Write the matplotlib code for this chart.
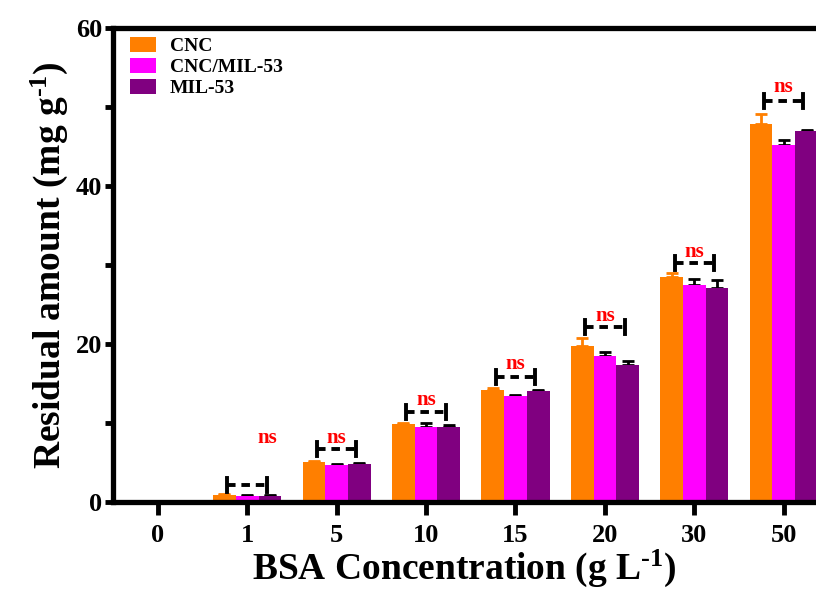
import numpy as np
import matplotlib
matplotlib.use("Agg")
import matplotlib.pyplot as plt

plt.rcParams['font.family'] = ['Liberation Serif', 'DejaVu Serif']
plt.rcParams['font.weight'] = 'bold'
plt.rcParams['mathtext.fontset'] = 'custom'
plt.rcParams['mathtext.rm'] = 'Liberation Serif:bold'
plt.rcParams['mathtext.default'] = 'rm'

# data
categories = ['0', '1', '5', '10', '15', '20', '30', '50']
cnc = [0, 0.9, 5.1, 9.9, 14.2, 19.7, 28.5, 47.8]
cnc_mil53 = [0, 0.8, 4.7, 9.5, 13.4, 18.5, 27.5, 45.2]
mil53 = [0, 0.8, 4.8, 9.5, 14.1, 17.3, 27.1, 47.0]
cnc_err = [0, 0.1, 0.1, 0.1, 0.2, 1.1, 0.5, 1.3]
cnc_mil53_err = [0, 0.1, 0.1, 0.5, 0.1, 0.5, 0.7, 0.6]
mil53_err = [0, 0.1, 0.1, 0.3, 0.1, 0.5, 1.0, 0.1]

# significance marks (group index, bracket height, label height, label x shift)
sig_groups = [1, 2, 3, 4, 5, 6, 7]
sig_line_y = [2.2, 6.7, 11.4, 15.8, 22.2, 30.3, 50.8]
sig_text_y = [8.1, 8.1, 12.9, 17.5, 23.5, 31.6, 52.5]
sig_text_dx = [0.22, 0, 0, 0, 0, 0, 0]

colors = ['#FF7F00', '#FF00FF', '#800080']
err_colors = ['#FF7F00', 'black', 'black']
labels = ['CNC', 'CNC/MIL-53', 'MIL-53']

fig = plt.figure(figsize=(8.16, 5.91), dpi=100)
ax = fig.add_axes([0.1385, 0.1506, 0.8615, 0.802])

x = np.arange(len(categories))
w = 0.254
series = [cnc, cnc_mil53, mil53]
errs = [cnc_err, cnc_mil53_err, mil53_err]
for i, (vals, e) in enumerate(zip(series, errs)):
    pos = x + (i - 1) * w
    ax.bar(pos, vals, width=w, color=colors[i], label=labels[i], zorder=2)
    ax.errorbar(pos, vals, yerr=[np.zeros(len(e)), e], fmt='none',
                ecolor=err_colors[i], elinewidth=2, capsize=4, capthick=2, zorder=1)

for g, ly, ty, dx in zip(sig_groups, sig_line_y, sig_text_y, sig_text_dx):
    x0, x1 = g - 0.22, g + 0.22
    ax.plot([x0, x1], [ly, ly], color='black', lw=2.8, linestyle=(0, (2.2, 1.5)),
            solid_capstyle='butt', zorder=3)
    ax.plot([x0, x0], [ly - 0.9, ly + 0.9], color='black', lw=2.8, zorder=3)
    ax.plot([x1, x1], [ly - 0.9, ly + 0.9], color='black', lw=2.8, zorder=3)
    ax.text(g + dx, ty, 'ns', color='red', fontsize=15, fontweight='bold',
            ha='center', va='center', zorder=4)

ax.set_xlim(-0.5, 7.36)
ax.set_ylim(0, 60)
ax.set_xticks(x)
ax.set_xticklabels(categories)
ax.set_yticks([0, 20, 40, 60])
ax.set_yticks([10, 30, 50], minor=True)

for s in ['left', 'bottom', 'top']:
    ax.spines[s].set_linewidth(3.8)
ax.spines['right'].set_visible(False)
ax.tick_params(axis='y', which='both', length=6, width=3.5, labelsize=19, pad=2)
ax.tick_params(axis='x', length=9, width=3.5, labelsize=19, pad=7)
for t in ax.get_xticklabels() + ax.get_yticklabels():
    t.set_fontweight('bold')

ax.set_xlabel(r'BSA Concentration (g L$^{\text{-1}}$)', fontsize=27, fontweight='bold', labelpad=0)
ax.set_ylabel(r'Residual amount (mg g$^{\text{-1}}$)', fontsize=27, fontweight='bold', labelpad=4)

ax.legend(loc='upper left', frameon=False, prop={'weight': 'bold', 'size': 14},
          handlelength=1.35, handleheight=0.82, handletextpad=0.7, labelspacing=0.15,
          borderpad=0.2, borderaxespad=0.1, bbox_to_anchor=(0.016, 0.994))

fig.savefig('out.png', dpi=100)
